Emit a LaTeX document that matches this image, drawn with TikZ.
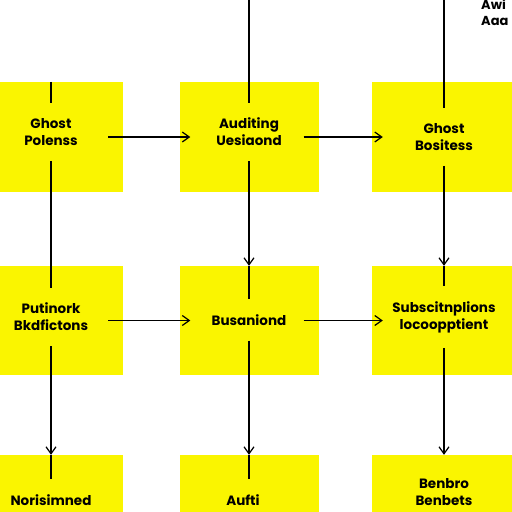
\documentclass[tikz,border=0pt]{standalone}
\usepackage{fontspec}
\setmainfont{Poppins}
\usetikzlibrary{arrows.meta}
\definecolor{boxyellow}{HTML}{FAF500}
\tikzset{
  ybox/.style={fill=boxyellow, draw=none, inner sep=0pt, minimum width=#1},
  ybox/.default=144pt,
  lbl/.style={fill=boxyellow, inner xsep=3pt, inner ysep=15pt, align=center,
    font=\fontsize{13.5}{17}\selectfont\bfseries},
  conn/.style={line width=1.2pt, black},
  arr/.style={conn, -{Straight Barb[length=7pt,width=10pt,line width=1.2pt]}}
}
\begin{document}
\begin{tikzpicture}[x=1pt,y=-1pt]
\useasboundingbox (0,0) rectangle (512,512);
%%% The yellow boxes, row by row
\node[ybox, minimum height=110pt] (b11) at (51,137) {};
\node[ybox=139pt, minimum height=110pt] (b12) at (249,137) {};
\node[ybox, minimum height=110pt] (b13) at (444,137) {};
\node[ybox, minimum height=109pt] (b21) at (51,320.5) {};
\node[ybox=139pt, minimum height=109pt] (b22) at (249,320.5) {};
\node[ybox, minimum height=109pt] (b23) at (444,320.5) {};
\node[ybox, minimum height=75pt] (b31) at (51,492.5) {};
\node[ybox=139pt, minimum height=75pt] (b32) at (249,492.5) {};
\node[ybox, minimum height=75pt] (b33) at (444,492.5) {};
%%% The labels inside the boxes
\node[lbl] (t11) at (51,132) {Ghost\\Polenss};
\node[lbl] (t12) at (249,132) {Auditing\\Uesiaond};
\node[lbl] (t13) at (444,137) {Ghost\\Bositess};
\node[lbl] (t21) at (51,317) {Putinork\\Bkdfictons};
\node[lbl] (t22) at (249,320) {Busaniond};
\node[lbl] (t23) at (444,317) {Subscitnplions\\locoopptient};
\node[lbl] (t31) at (51,500) {Norisimned};
\node[lbl] (t32) at (243,500) {Aufti};
\node[lbl] (t33) at (444,492) {Benbro\\Benbets};
\node[anchor=north west, inner sep=0pt, align=left,
  font=\fontsize{13}{16}\selectfont\bfseries] (corner) at (481,-1) {Awi\\Aaa};
\coordinate (top2) at (249,0);
\coordinate (top3) at (444,0);
%%% Vertical connectors
\draw[conn] (b11.north) -- (t11.north);
\draw[conn] (t11.south) -- (t21.north);
\draw[arr] (t21.south) -- (b31.north);
\draw[conn] (b31.north) -- (t31.north -| b31.north);
\draw[conn] (top2) -- (t12.north);
\draw[arr] (t12.south) -- (b22.north);
\draw[conn] (b22.north) -- (t22.north);
\draw[arr] (t22.south) -- (b32.north);
\draw[conn] (b32.north) -- (t32.north -| b32.north);
\draw[conn] (top3) -- (t13.north);
\draw[arr] (t13.south) -- (b23.north);
\draw[conn] (b23.north) -- (t23.north);
\draw[arr] (t23.south) -- (b33.north);
%%% Horizontal connectors
\draw[arr] ([xshift=-15pt]b11.east) -- ([xshift=11pt]b12.west);
\draw[arr] ([xshift=-15pt]b12.east) -- ([xshift=11pt]b13.west);
\draw[arr] ([xshift=-15pt]b21.east) -- ([xshift=11pt]b22.west);
\draw[arr] ([xshift=-15pt]b22.east) -- ([xshift=11pt]b23.west);
\end{tikzpicture}
\end{document}
